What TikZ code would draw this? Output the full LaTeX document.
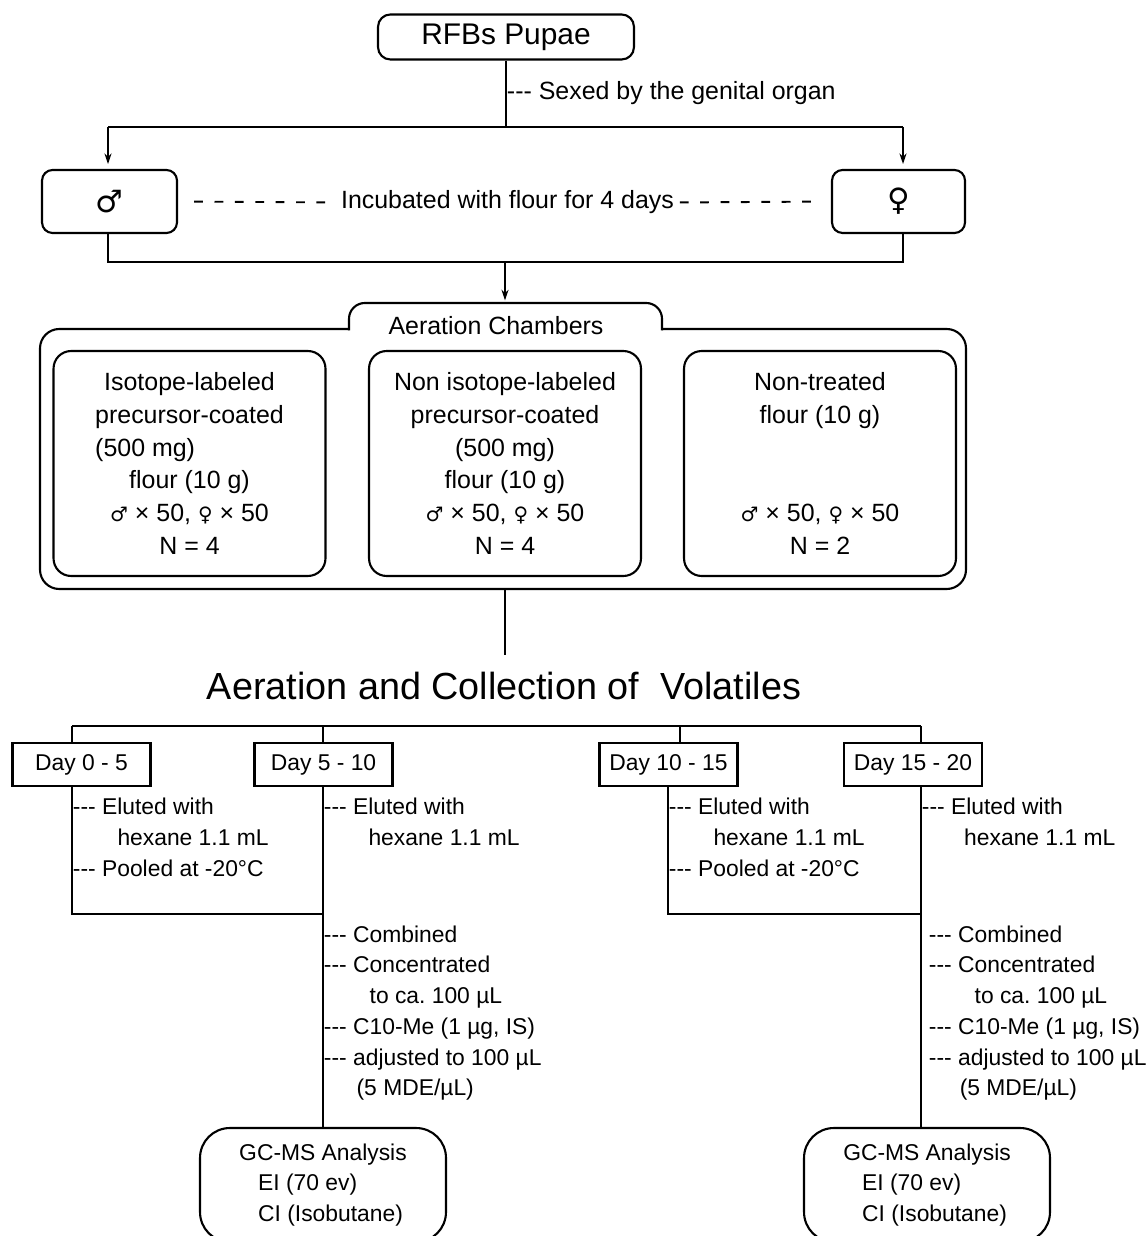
\documentclass[tikz,border=0pt]{standalone}
\usepackage{fontspec}
\setmainfont{Liberation Sans}
\newfontfamily\symfont[Scale=0.8]{DejaVu Sans}
\usetikzlibrary{arrows.meta,positioning}
\newcommand{\dsh}{-{}-{}-}
\newcommand{\ml}{{\symfont ♂}}
\newcommand{\fm}{{\symfont ♀}}

\begin{document}
\frenchspacing
\begin{tikzpicture}[
    x=0.02cm, y=-0.02cm,
    line width=1.1pt,
    bigfont/.style={font=\fontsize{14.2}{18.6}\selectfont},
    smallfont/.style={font=\fontsize{13}{17.5}\selectfont},
    pill/.style={rectangle,rounded corners=7pt,draw,line width=1.2pt,
      minimum width=5.12cm,minimum height=0.9cm,font=\fontsize{17}{20}\selectfont},
    sexbox/.style={rectangle,rounded corners=6pt,draw,line width=1.2pt,
      minimum width=2.7cm,minimum height=1.26cm,font=\fontsize{22}{24}\selectfont},
    chamber/.style={rectangle,rounded corners=10pt,draw,line width=1.2pt,
      minimum width=5.44cm,minimum height=4.5cm,align=center,bigfont},
    daybox/.style={rectangle,draw,line width=1.2pt,minimum width=2.76cm,
      minimum height=0.86cm,inner sep=0pt,smallfont},
    gcbox/.style={rectangle,rounded corners=17pt,draw,line width=1.2pt,
      minimum width=4.92cm,minimum height=2.28cm,align=left,smallfont},
    note/.style={inner sep=0pt,align=left,smallfont},
    dashline/.style={dash pattern=on 5pt off 6.6pt},
    arrow/.style={-{Stealth[length=6pt,width=4pt]}}
  ]
    \useasboundingbox (0,0) rectangle (1147,1236);

    \node[pill] (pupae) at (506,37) {RFBs Pupae};
    \node[note,bigfont,anchor=west] (sexed) at (506,93.5) {\dsh{} Sexed by the genital organ};
    \coordinate (sexsplit) at (506,127);
    \coordinate (splitL) at (108,127);
    \coordinate (splitR) at (903,127);

    \node[sexbox] (male) at (109.5,201.5) {\ml};
    \node[sexbox,minimum width=2.66cm] (female) at (898.5,201.5) {\fm};
    \node[bigfont,inner xsep=0pt] (incub) at (507.5,202.5) {Incubated with flour for 4 days};

    \draw (pupae.south) -- (sexsplit);
    \draw (splitL) -- (splitR);
    \draw[arrow,shorten >=2.8pt] (splitL) -- (male.north -| splitL);
    \draw[arrow,shorten >=2.8pt] (splitR) -- (female.north -| splitR);
    \draw[dashline,shorten <=8.5pt,shorten >=8.5pt] (incub.west) -- (male.east);
    \draw[dashline,shorten <=2.8pt,shorten >=6.8pt] (incub.east) -- (female.west);

    \coordinate (joinL) at (108,262);
    \coordinate (joinR) at (903,262);
    \coordinate (joinM) at (505,262);
    \coordinate (tabtop) at (505,303);
    \draw (male.south -| joinL) -- (joinL) -- (joinR) -- (female.south -| joinR);
    \draw[arrow,shorten >=1.5pt] (joinM) -- (tabtop);

    \draw[line width=1.2pt,rounded corners=11pt] (349,329) -- (40,329) -- (40,589)
      -- (966,589) -- (966,329) -- (662,329);
    \draw[line width=1.2pt,rounded corners=9pt] (349,330.5) -- (349,303) -- (662,303)
      -- (662,330.5);
    \node[bigfont] (chambers) at (496,326) {Aeration Chambers};

    \node[chamber] (labeled) at (189.5,463.5) {Isotope-labeled\\precursor-coated\\
      \rlap{(500 mg)}\phantom{precursor-coated}\\flour (10 g)\\\ml{} × 50, \fm{} × 50\\N = 4};
    \node[chamber] (unlabeled) at (505,463.5) {Non isotope-labeled\\precursor-coated\\
      (500 mg)\\flour (10 g)\\\ml{} × 50, \fm{} × 50\\N = 4};
    \node[chamber] (untreated) at (820,463.5) {Non-treated\\flour (10 g)\\
      \mbox{}\\\mbox{}\\\ml{} × 50, \fm{} × 50\\N = 2};

    \coordinate (chamberout) at (505,589);
    \node[inner sep=0pt,font=\fontsize{21.5}{24}\selectfont] (title) at (504,686)
      {Aeration and Collection of\ \ Volatiles};
    \draw[shorten >=9.4pt] (chamberout) -- (title.north -| chamberout);

    \coordinate (busL) at (72,726);
    \coordinate (bus2) at (323,726);
    \coordinate (bus3) at (680,726);
    \coordinate (busR) at (921,726);
    \draw (busL) -- (busR);

    \node[daybox] (d05) at (81.5,764.5) {Day 0 - 5};
    \node[daybox] (d510) at (323.5,764.5) {Day 5 - 10};
    \node[daybox] (d1015) at (668.5,764.5) {Day 10 - 15};
    \node[daybox] (d1520) at (913,764.5) {Day 15 - 20};

    \draw (busL) -- (busL |- d05.north);
    \draw (bus2) -- (bus2 |- d510.north);
    \draw (bus3) -- (bus3 |- d1015.north);
    \draw (busR) -- (busR |- d1520.north);

    \node[gcbox] (gc1) at (323,1185) {GC-MS Analysis\\\hspace*{0.83em}EI (70 ev)\\
      \hspace*{0.83em}CI (Isobutane)};
    \node[gcbox] (gc2) at (927,1185) {GC-MS Analysis\\\hspace*{0.83em}EI (70 ev)\\
      \hspace*{0.83em}CI (Isobutane)};

    \coordinate (pool1) at (72,914);
    \coordinate (comb1) at (323,914);
    \coordinate (pool2) at (668,914);
    \coordinate (comb2) at (921,914);
    \draw (d05.south -| pool1) -- (pool1) -- (comb1);
    \draw (d510.south -| comb1) -- (comb1 |- gc1.north);
    \draw (d1015.south -| pool2) -- (pool2) -- (comb2);
    \draw (d1520.south -| comb2) -- (comb2 |- gc2.north);

    \node[note,anchor=north west] (elute1) at (72,797) {\dsh{} Eluted with\\
      \hspace*{1.95em}hexane 1.1 mL\\\dsh{} Pooled at -20°C};
    \node[note,anchor=north west] (elute2) at (323,797) {\dsh{} Eluted with\\
      \hspace*{1.95em}hexane 1.1 mL};
    \node[note,anchor=north west] (elute3) at (668,797) {\dsh{} Eluted with\\
      \hspace*{1.95em}hexane 1.1 mL\\\dsh{} Pooled at -20°C};
    \node[note,anchor=north west] (elute4) at (921,797) {\dsh{} Eluted with\\
      \hspace*{1.85em}hexane 1.1 mL};

    \node[note,anchor=north west] (treat1) at (323,924.5) {\dsh{} Combined\\
      \dsh{} Concentrated\\\hspace*{2em}to ca. 100 µL\\\dsh{} C10-Me (1 µg, IS)\\
      \dsh{} adjusted to 100 µL\\\hspace*{1.43em}(5 MDE/µL)};
    \node[note,anchor=north west] (treat2) at (928,924.5) {\dsh{} Combined\\
      \dsh{} Concentrated\\\hspace*{2em}to ca. 100 µL\\\dsh{} C10-Me (1 µg, IS)\\
      \dsh{} adjusted to 100 µL\\\hspace*{1.35em}(5 MDE/µL)};
  \end{tikzpicture}
\end{document}
